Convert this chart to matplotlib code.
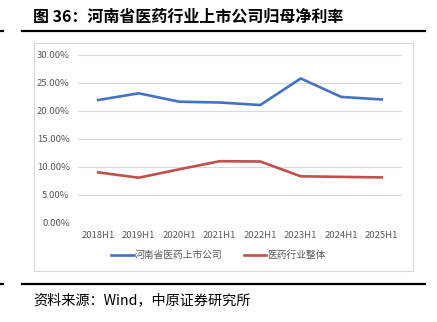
import numpy as np
import matplotlib
matplotlib.use("Agg")
import matplotlib.pyplot as plt
from matplotlib.patches import Rectangle
from matplotlib.lines import Line2D

plt.rcParams['font.family'] = ['Noto Sans CJK SC', 'DejaVu Sans']

periods = ['2018H1', '2019H1', '2020H1', '2021H1', '2022H1', '2023H1', '2024H1', '2025H1']
henan_listed = [21.95, 23.15, 21.65, 21.5, 21.05, 25.8, 22.5, 22.05]
industry_total = [9.0, 8.05, 9.55, 11.0, 10.95, 8.3, 8.2, 8.1]
series_names = ['河南省医药上市公司', '医药行业整体']
yticks = [0, 5, 10, 15, 20, 25, 30]

W, H = 437, 322
fig = plt.figure(figsize=(W / 100, H / 100), dpi=100)


def fx(px):
    return px / W


def fy(py):
    return 1 - py / H


# title and rules
fig.text(fx(33), fy(17), '图 36：河南省医药行业上市公司归母净利率', fontsize=11.5,
         fontweight='bold', va='center', ha='left', color='black')
for yy in (31, 284):
    fig.add_artist(Line2D([fx(22), fx(425)], [fy(yy), fy(yy)], color='black', lw=1.6))
    fig.add_artist(Line2D([fx(0), fx(3)], [fy(yy), fy(yy)], color='black', lw=1.6))
fig.text(fx(33), fy(300), '资料来源：Wind，中原证券研究所', fontsize=10.2,
         va='center', ha='left', color='black')

# chart frame
fig.add_artist(Rectangle((fx(34), fy(271)), fx(413) - fx(34), fy(43) - fy(271),
                         fill=False, edgecolor='#D9D9D9', lw=0.8))

ax = fig.add_axes([fx(78), fy(222.7), fx(402) - fx(78), fy(55) - fy(222.7)])
x = np.arange(len(periods))
ax.plot(x, henan_listed, color='#4472C4', lw=1.9, label=series_names[0])
ax.plot(x, industry_total, color='#C0504D', lw=1.9, label=series_names[1])

ax.set_xlim(-0.5, len(periods) - 0.5)
ax.set_ylim(0, 30)
ax.set_yticks(yticks)
ax.set_yticklabels([f'{v:.2f}%' for v in yticks])
ax.set_xticks(x)
ax.set_xticklabels(periods)
ax.tick_params(length=0, labelsize=6.8, colors='#595959', pad=6)
ax.grid(axis='y', color='#D9D9D9', lw=0.8)
ax.set_axisbelow(True)
for s in ax.spines.values():
    s.set_visible(False)

ax.legend(loc='center', bbox_to_anchor=(0.5, fy(255)), bbox_transform=fig.transFigure,
          ncol=2, frameon=False, fontsize=7, handlelength=2.3, handletextpad=0.1,
          columnspacing=2.2, labelcolor='#595959')

fig.savefig('out.png', dpi=100)
